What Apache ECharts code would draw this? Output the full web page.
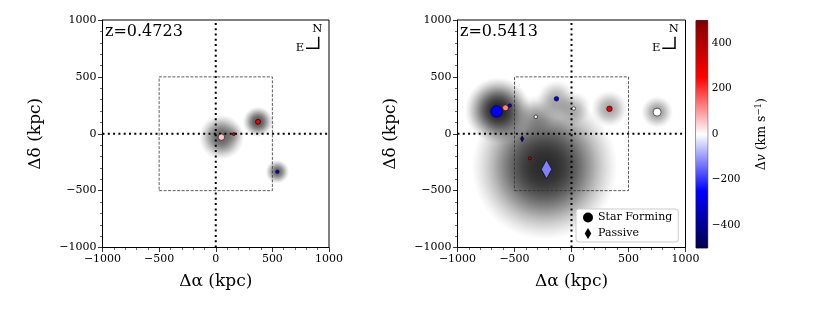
<!DOCTYPE html>
<html><head><meta charset="utf-8">
<script src="https://cdn.jsdelivr.net/npm/echarts@6/dist/echarts.min.js"></script>
<style>html,body{margin:0;padding:0;background:#fff}#c{width:830px;height:312px}</style>
</head><body><div id="c"></div>
<script>
// ---------- data ----------
const axisTicks = [-1000, -500, 0, 500, 1000];
const cbarTicks = [-400, -200, 0, 200, 400];
const redshifts = ['z=0.4723', 'z=0.5413'];
const seismic = ['#00004c', '#0000ff', '#ffffff', '#ff0000', '#800000'];

// panel 1 (z=0.4723) star-forming galaxies: x, y (kpc), dv (km/s), marker size
const p1sfX = [50, 159, 373, 544];
const p1sfY = [-30, -3, 105, -334];
const p1sfV = [60, 340, 280, -270];
const p1sfS = [6.5, 3, 5, 3.5];
// panel 1 halos: x, y, radius (kpc), peak density
const p1hX = [50, 159, 373, 544];
const p1hY = [-30, -3, 105, -334];
const p1hR = [200, 90, 135, 105];
const p1hA = [0.6, 0.12, 0.66, 0.58];

// panel 2 (z=0.5413) star-forming
const p2sfX = [-658, -579, -541, -132, -313, 20, 333, 751, -366];
const p2sfY = [196, 228, 248, 307, 149, 222, 219, 190, -216];
const p2sfV = [-250, 125, -280, -260, -15, 5, 270, 0, 330];
const p2sfS = [11.5, 6, 3.5, 4.5, 3.5, 3.5, 5.5, 8, 3];
// panel 2 passive
const p2paX = [-433, -219];
const p2paY = [-44, -313];
const p2paV = [-400, -125];
const p2paS = [6, 19];
// panel 2 halos
const p2hX = [-645, -235, -132, 20, -313, 333, 751];
const p2hY = [205, -290, 300, 222, 149, 219, 190];
const p2hR = [290, 640, 170, 150, 160, 160, 140];
const p2hA = [0.85, 0.83, 0.3, 0.25, 0.2, 0.33, 0.38];

// ---------- helpers ----------
const F = 'DejaVu Serif';
const zip4 = (a, b, c, d) => a.map((v, i) => [v, b[i], c[i], d[i]]);
const minus = v => String(v).replace('-', '\u2212');

function xAx(gi) {
  return {
    type: 'value', gridIndex: gi, min: -1000, max: 1000, interval: 500,
    name: '\u0394\u03b1 (kpc)', nameLocation: 'middle', nameGap: 26,
    nameTextStyle: { fontFamily: F, fontSize: 17, color: '#000' },
    axisLine: { onZero: false, lineStyle: { color: '#000', width: 1 } },
    axisTick: { inside: false, length: 4.5, lineStyle: { color: '#000', width: 0.8 } },
    minorTick: { show: true, splitNumber: 5, length: 2.5, lineStyle: { color: '#000', width: 0.6 } },
    axisLabel: { fontFamily: F, fontSize: 11, color: '#000', margin: 6, formatter: minus },
    splitLine: { show: false }, minorSplitLine: { show: false }
  };
}
function yAx(gi) {
  return {
    type: 'value', gridIndex: gi, min: -1000, max: 1000, interval: 500,
    name: '\u0394\u03b4 (kpc)', nameLocation: 'middle', nameGap: 58, nameRotate: 90,
    nameTextStyle: { fontFamily: F, fontSize: 17, color: '#000' },
    axisLine: { onZero: false, lineStyle: { color: '#000', width: 1 } },
    axisTick: { inside: false, length: 4.5, lineStyle: { color: '#000', width: 0.8 } },
    minorTick: { show: true, splitNumber: 5, length: 2.5, lineStyle: { color: '#000', width: 0.6 } },
    axisLabel: { fontFamily: F, fontSize: 11, color: '#000', margin: 6, formatter: minus },
    splitLine: { show: false }, minorSplitLine: { show: false }
  };
}
function haloSeries(gi, data) {
  return {
    type: 'custom', xAxisIndex: gi, yAxisIndex: gi, z: 1, silent: true, clip: true,
    encode: { x: 0, y: 1 },
    data: data,
    renderItem: function (params, api) {
      const c = api.coord([api.value(0), api.value(1)]);
      const r = api.size([api.value(2), 0])[0];
      const a = api.value(3);
      const stops = [];
      const prof = s => Math.exp(-Math.pow(s / 0.75, 2.5));
      const e = prof(1);
      for (let i = 0; i <= 20; i++) {
        const s = i / 20;
        const f = (prof(s) - e) / (1 - e);
        stops.push({ offset: s, color: 'rgba(0,0,0,' + (a * f).toFixed(4) + ')' });
      }
      return {
        type: 'circle', shape: { cx: c[0], cy: c[1], r: r },
        style: { fill: { type: 'radial', x: 0.5, y: 0.5, r: 0.5, colorStops: stops } }
      };
    }
  };
}
function lineSeries(gi, data, style) {
  return { type: 'line', xAxisIndex: gi, yAxisIndex: gi, z: 2, silent: true, showSymbol: false,
    symbol: 'none', data: data, lineStyle: style, animation: false };
}
function crossLines(gi) {
  const st = { color: '#000', width: 2, type: [2, 3.3], cap: 'butt' };
  return [
    lineSeries(gi, [[0, -1000], [0, 1000]], st),
    lineSeries(gi, [[-1000, 0], [1000, 0]], st),
    lineSeries(gi, [[-500, -500], [500, -500], [500, 500], [-500, 500], [-500, -500]],
      { color: '#333', width: 0.8, type: [3, 1.5] })
  ];
}
function scatterSeries(gi, name, symbol, data) {
  return {
    type: 'scatter', name: name, xAxisIndex: gi, yAxisIndex: gi, z: 3, symbol: symbol,
    data: data,
    symbolSize: v => symbol === 'diamond' ? [v[3] * 0.55, v[3]] : v[3],
    itemStyle: { borderColor: '#000', borderWidth: 0.6, opacity: 1 },
    emphasis: { disabled: true }
  };
}

const series = [];
series.push(haloSeries(0, zip4(p1hX, p1hY, p1hR, p1hA)));
series.push(haloSeries(1, zip4(p2hX, p2hY, p2hR, p2hA)));
crossLines(0).forEach(s => series.push(s));
crossLines(1).forEach(s => series.push(s));
const scatterIdx = [];
scatterIdx.push(series.length); series.push(scatterSeries(0, 'Star Forming', 'circle', zip4(p1sfX, p1sfY, p1sfV, p1sfS)));
scatterIdx.push(series.length); series.push(scatterSeries(1, 'Star Forming', 'circle', zip4(p2sfX, p2sfY, p2sfV, p2sfS)));
scatterIdx.push(series.length); series.push(scatterSeries(1, 'Passive', 'diamond', zip4(p2paX, p2paY, p2paV, p2paS)));
// colour bar
series.push({
  type: 'custom', xAxisIndex: 2, yAxisIndex: 2, silent: true, encode: { x: 0, y: 1 },
  data: [[0, -500, 1, 500]],
  renderItem: function (params, api) {
    const p0 = api.coord([api.value(0), api.value(1)]);
    const p1 = api.coord([api.value(2), api.value(3)]);
    return {
      type: 'rect',
      shape: { x: p0[0], y: p1[1], width: p1[0] - p0[0], height: p0[1] - p1[1] },
      style: { fill: { type: 'linear', x: 0, y: 1, x2: 0, y2: 0,
        colorStops: seismic.map((c, i) => ({ offset: i / (seismic.length - 1), color: c })) } }
    };
  }
});

function compass(xr, yb) {
  return [
    { type: 'polyline', shape: { points: [[xr - 12.7, yb], [xr, yb], [xr, yb - 11.6]] },
      style: { stroke: '#000', lineWidth: 1.5, fill: null }, z: 10 },
    { type: 'text', x: xr - 1.3, y: yb - 19, style: { text: 'N', font: '11.5px "DejaVu Serif"', fill: '#000', align: 'center', verticalAlign: 'middle' }, z: 10 },
    { type: 'text', x: xr - 18.7, y: yb - 0.6, style: { text: 'E', font: '11.5px "DejaVu Serif"', fill: '#000', align: 'center', verticalAlign: 'middle' }, z: 10 }
  ];
}

const option = {
  animation: false,
  backgroundColor: '#fff',
  grid: [
    { left: 102.5, top: 20, width: 226.5, height: 227.5, show: true, borderColor: '#000', borderWidth: 1, backgroundColor: 'transparent', outerBoundsMode: 'none', containLabel: false },
    { left: 457.5, top: 20, width: 228, height: 227.5, show: true, borderColor: '#000', borderWidth: 1, backgroundColor: 'transparent', outerBoundsMode: 'none', containLabel: false },
    { left: 696, top: 20.5, width: 11.7, height: 227.5, show: true, borderColor: '#000', borderWidth: 0.8, backgroundColor: 'transparent', outerBoundsMode: 'none', containLabel: false }
  ],
  xAxis: [xAx(0), xAx(1), { type: 'value', gridIndex: 2, min: 0, max: 1, show: false }],
  yAxis: [yAx(0), yAx(1), {
    type: 'value', gridIndex: 2, position: 'right', min: -500, max: 500,
    name: '{g|\u0394}{i|v}{g| (km s}{s|\u22121}{g|)}', nameLocation: 'middle', nameRotate: 90, nameGap: 47,
    nameTextStyle: { fontFamily: F, fontSize: 12.5, color: '#000',
      rich: { g: { fontFamily: F, fontSize: 12.5, color: '#000' }, i: { fontFamily: F, fontSize: 12.5, fontStyle: 'italic', color: '#000' },
        s: { fontFamily: F, fontSize: 8.5, color: '#000', verticalAlign: 'top', padding: [0, 0, 6, 0] } } },
    axisLine: { show: false },
    axisTick: { show: true, inside: false, length: 3.5, customValues: cbarTicks, lineStyle: { color: '#000', width: 0.8 } },
    axisLabel: { fontFamily: F, fontSize: 10.5, color: '#000', margin: 4, customValues: cbarTicks, formatter: minus },
    splitLine: { show: false }
  }],
  visualMap: [{
    type: 'continuous', show: false, min: -500, max: 500, dimension: 2,
    seriesIndex: scatterIdx, inRange: { color: seismic }
  }],
  legend: {
    left: 576, top: 209, orient: 'vertical', backgroundColor: '#fff', borderColor: '#ccc',
    borderWidth: 1, borderRadius: 3, padding: [3, 6, 3, 7], itemGap: 5, itemWidth: 10, itemHeight: 11,
    selectedMode: false,
    textStyle: { fontFamily: F, fontSize: 11, color: '#000' },
    data: [
      { name: 'Star Forming', icon: 'circle', itemStyle: { color: '#000', borderWidth: 0 } },
      { name: 'Passive', icon: 'path://M0,0 L6,10 L0,20 L-6,10 Z', itemStyle: { color: '#000', borderWidth: 0 } }
    ]
  },
  graphic: [
    { type: 'text', left: 105, top: 24, style: { text: redshifts[0], font: '16px "DejaVu Serif"', fill: '#000' }, z: 10 },
    { type: 'text', left: 460, top: 24, style: { text: redshifts[1], font: '16px "DejaVu Serif"', fill: '#000' }, z: 10 }
  ].concat(compass(318.7, 48.3)).concat(compass(675, 48.3)),
  series: series
};

const chart = echarts.init(document.getElementById('c'), null, { renderer: 'canvas' });
chart.setOption(option);
</script>
</body></html>
